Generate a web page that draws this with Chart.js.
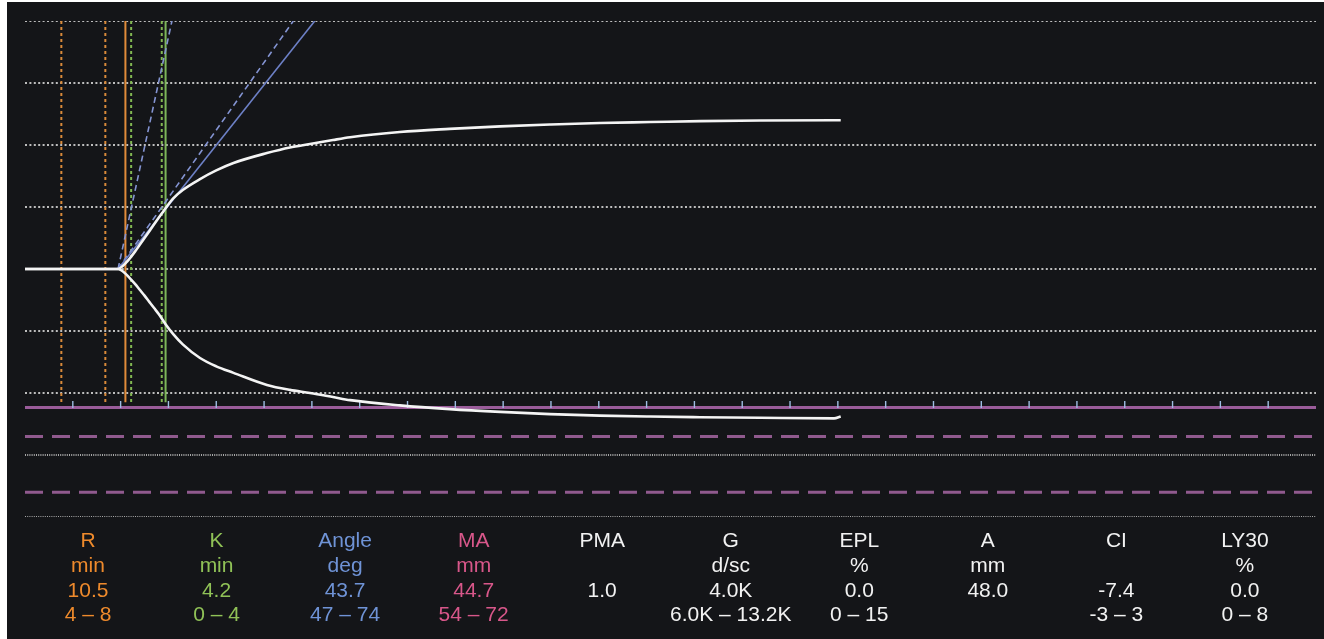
<!DOCTYPE html>
<html>
<head>
<meta charset="utf-8">
<script src="https://cdn.jsdelivr.net/npm/chart.js@4.4.1/dist/chart.umd.min.js"></script>
<style>
  html, body { margin: 0; padding: 0; background: #ffffff; }
  #panel { position: absolute; left: 7px; top: 2px; width: 1317px; height: 637px; background: #141518; overflow: hidden; }
  #c { position: absolute; left: 0; top: 0; }
  .col { position: absolute; width: 160px; text-align: center; font-family: "Liberation Sans", Arial, sans-serif;
         font-size: 21px; line-height: 24.67px; white-space: pre; }
</style>
</head>
<body>
<div id="panel"><canvas id="c" width="1317" height="637"></canvas><div id="table"></div></div>
<script>
// ---- time axis (minutes) and amplitude axis (mm) ----
const MINUTES_MAX = 135;
const AMPLITUDE_MAX = 80;
const TICK_MINUTES = [5, 10, 15, 20, 25, 30, 35, 40, 45, 50, 55, 60, 65, 70, 75, 80, 85, 90, 95, 100, 105, 110, 115, 120, 125, 130];
const GRID_MM = [80, 60, 40, 20, 0, -20, -40];
const FINE_GRID_MM = [-60, -80];

// ---- tracing: time (min) and amplitude of each branch (mm) ----
const TRACE_MIN   = [0, 9.7, 10.0, 10.5, 11.0, 11.5, 12.0, 12.5, 13.0, 13.5, 14.0, 14.7, 15.5, 16.5, 18.3, 20.0, 21.8, 25.3, 27.7, 29.8, 32.2, 34.0, 39.2, 44.4, 49.7, 54.9, 60.1, 65.4, 70.6, 76.9, 84.6, 85.3];
const TRACE_UPPER = [0, 0, 0.4, 1.8, 3.6, 5.6, 7.8, 10.0, 12.2, 14.4, 16.6, 19.6, 22.8, 25.5, 29.0, 31.8, 34.2, 37.4, 39.2, 40.3, 41.6, 42.5, 44.2, 45.2, 46.0, 46.6, 47.1, 47.4, 47.7, 47.9, 48.0, 48.0];
const TRACE_LOWER = [0, 0, -0.3, -1.5, -3.1, -4.8, -6.7, -8.6, -10.6, -12.6, -14.6, -17.8, -21.0, -24.3, -28.7, -31.4, -33.5, -37.4, -39.0, -40.0, -41.3, -42.3, -44.0, -45.2, -46.1, -46.8, -47.3, -47.6, -47.8, -48.0, -48.2, -47.6];

// ---- reference marks ----
const R_MIN = 10.5;
const K_MIN = 4.2;
const ANGLE_DEG = 43.7;
const ANGLE_RANGE_DEG = [47, 74];
const MA_MM = 44.7;
const MA_RANGE_MM = [54, 72];
const R_GUIDE_MIN = [3.8, 8.4];
const K_GUIDE_MIN = [11.1, 14.3];
const ANGLE_ORIGIN_MIN = 9.73;      // where the branches part
const ANGLE_SCALE = 4.07;           // mm of amplitude per minute for a unit tangent
const GUIDE_BOTTOM_MM = -43;

// ---- parameter table ----
const PARAM_NAMES  = ["R", "K", "Angle", "MA", "PMA", "G", "EPL", "A", "CI", "LY30"];
const PARAM_UNITS  = ["min", "min", "deg", "mm", "", "d/sc", "%", "mm", "", "%"];
const PARAM_VALUES = ["10.5", "4.2", "43.7", "44.7", "1.0", "4.0K", "0.0", "48.0", "-7.4", "0.0"];
const PARAM_RANGES = ["4 \u2013 8", "0 \u2013 4", "47 \u2013 74", "54 \u2013 72", "", "6.0K \u2013 13.2K", "0 \u2013 15", "", "-3 \u2013 3", "0 \u2013 8"];
const PARAM_COLORS = ["#ee8a2c", "#90c257", "#6f93d6", "#d8578a", "#f2f2f2", "#f2f2f2", "#f2f2f2", "#f2f2f2", "#f2f2f2", "#f2f2f2"];

// ---- build datasets ----
function seg(points, color, width, dash, order) {
  return { data: points, borderColor: color, borderWidth: width, borderDash: dash || [],
           pointRadius: 0, tension: 0, fill: false, order: order, borderCapStyle: 'butt' };
}
const datasets = [];

const upper = TRACE_MIN.map((t, i) => ({ x: t, y: TRACE_UPPER[i] }));
const lower = TRACE_MIN.map((t, i) => ({ x: t, y: TRACE_LOWER[i] }));
datasets.push(Object.assign(seg(upper, '#f4f4f4', 2.6, null, 0), { cubicInterpolationMode: 'monotone' }));
datasets.push(Object.assign(seg(lower, '#f4f4f4', 2.6, null, 0), { cubicInterpolationMode: 'monotone' }));

// angle tangents
function angleLine(deg) {
  const slope = ANGLE_SCALE * Math.tan(deg * Math.PI / 180);
  return [{ x: ANGLE_ORIGIN_MIN, y: 0 }, { x: ANGLE_ORIGIN_MIN + AMPLITUDE_MAX / slope, y: AMPLITUDE_MAX }];
}
datasets.push(seg(angleLine(ANGLE_DEG), '#6d80c6', 1.6, null, 2));
ANGLE_RANGE_DEG.forEach(d => datasets.push(seg(angleLine(d), '#8494d2', 1.6, [6, 4], 2)));

// R and K markers
function vline(t) { return [{ x: t, y: AMPLITUDE_MAX }, { x: t, y: GUIDE_BOTTOM_MM }]; }
R_GUIDE_MIN.forEach(t => datasets.push(seg(vline(t), '#d98a3a', 2, [3, 3], 3)));
K_GUIDE_MIN.forEach(t => datasets.push(seg(vline(t), '#82b852', 2, [3, 3], 3)));
datasets.push(seg(vline(R_MIN), '#e08b3a', 2, null, 3));
datasets.push(seg(vline(R_MIN + K_MIN), '#7db65a', 2, null, 3));

// time ticks sitting on the MA line
datasets.push({
  data: TICK_MINUTES.map(t => ({ x: t, y: -MA_MM + 1.0 })),
  showLine: false, pointStyle: 'line', rotation: 90, pointRadius: 3.5,
  pointBorderColor: '#9fbde3', pointBorderWidth: 1.4, borderColor: '#9fbde3', order: 1
});

// MA line and MA range
function hline(y) { return [{ x: 0, y: y }, { x: MINUTES_MAX, y: y }]; }
datasets.push(seg(hline(-MA_MM), '#9a5c9a', 3, null, 4));
MA_RANGE_MM.forEach(m => datasets.push(seg(hline(-m), '#905a8e', 3, [18, 9], 4)));

// dotted grid
GRID_MM.forEach(v => datasets.push(seg(hline(v), '#bdbdbd', 2, [2, 2.4], 6)));
FINE_GRID_MM.forEach(v => datasets.push(seg(hline(v), '#a8a8a8', 2, [1, 1.2], 6)));

new Chart(document.getElementById('c'), {
  type: 'line',
  data: { datasets: datasets },
  options: {
    responsive: false,
    animation: false,
    events: [],
    layout: { padding: { left: 18, right: 8, top: 19, bottom: 122 } },
    plugins: { legend: { display: false }, tooltip: { enabled: false } },
    scales: {
      x: { type: 'linear', min: 0, max: MINUTES_MAX, display: false },
      y: { type: 'linear', min: -AMPLITUDE_MAX, max: AMPLITUDE_MAX, display: false }
    }
  }
});

// ---- parameter table below the tracing ----
const table = document.getElementById('table');
PARAM_NAMES.forEach((name, i) => {
  const d = document.createElement('div');
  d.className = 'col';
  const centre = 88 + 128.55 * i - 7;
  d.style.left = (centre - 80) + 'px';
  d.style.top = '526.4px';
  d.style.color = PARAM_COLORS[i];
  d.textContent = [name, PARAM_UNITS[i], PARAM_VALUES[i], PARAM_RANGES[i]].join('\n');
  table.appendChild(d);
});
</script>
</body>
</html>
